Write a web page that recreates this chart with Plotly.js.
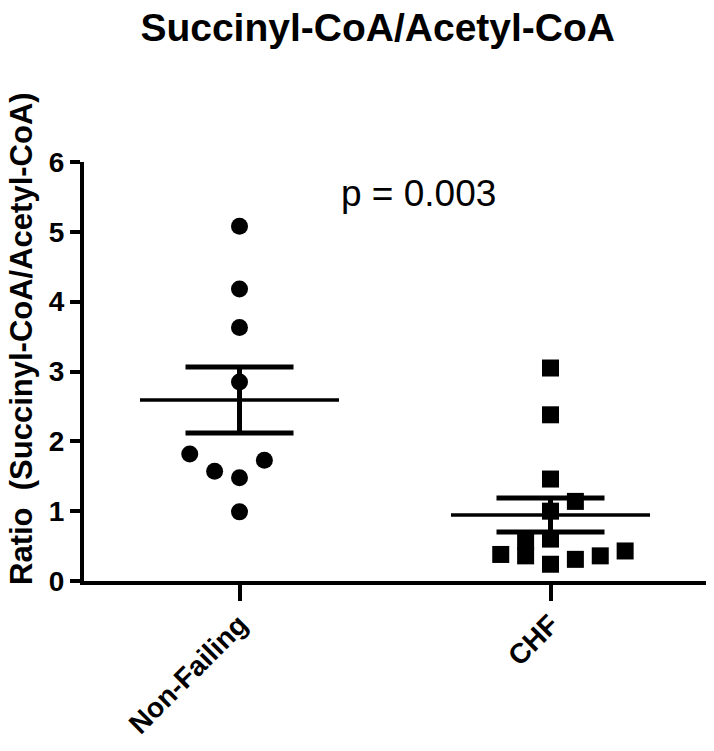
<!DOCTYPE html>
<html>
<head>
<meta charset="utf-8">
<script src="https://cdn.plot.ly/plotly-3.0.1.min.js"></script>
<style>html,body{margin:0;padding:0;background:#fff;}#chart{width:714px;height:751px;}</style>
</head>
<body>
<div id="chart"></div>
<script>
// ---- data ----
const categories = ["Non-Failing", "CHF"];
const nonFailingValues = [5.08, 4.18, 3.63, 2.85, 1.82, 1.57, 1.48, 1.73, 0.99];
const nonFailingJitter = [0, 0, 0, 0, -2, -1, 0, 1, 0];
const chfValues = [3.05, 2.38, 1.46, 1.14, 1.00, 0.57, 0.36, 0.60, 0.38, 0.24, 0.31, 0.36, 0.43];
const chfJitter = [0, 0, 0, 1, 0, -1, -1, 0, -2, 0, 1, 2, 3];
const yTickVals = [0, 1, 2, 3, 4, 5, 6];
const pValueText = "p = 0.003";
const chartTitle = "Succinyl-CoA/Acetyl-CoA";
const yTitle = "Ratio  (Succinyl-CoA/Acetyl-CoA)";

// ---- styling ----
const FONT = "Liberation Sans, Arial, sans-serif";
const JITTER_STEP = 0.08;
const MEAN_HALF = 0.32;

function mean(a){ return a.reduce((s,v)=>s+v,0)/a.length; }
function sem(a){ const m=mean(a); const v=a.reduce((s,x)=>s+(x-m)*(x-m),0)/(a.length-1); return Math.sqrt(v)/Math.sqrt(a.length); }

const groups = [
  {vals: nonFailingValues, jit: nonFailingJitter, symbol: "circle", pos: 0},
  {vals: chfValues, jit: chfJitter, symbol: "square", pos: 1}
];

const traces = [];
groups.forEach(g => {
  const m = mean(g.vals), s = sem(g.vals);
  traces.push({
    type: "scatter", mode: "markers",
    x: g.jit.map(j => g.pos + j*JITTER_STEP), y: g.vals,
    marker: {symbol: g.symbol, size: 17, color: "#000", line: {width: 0}},
    hoverinfo: "y", showlegend: false, cliponaxis: false
  });
  traces.push({
    type: "scatter", mode: "lines",
    x: [g.pos - MEAN_HALF, g.pos + MEAN_HALF], y: [m, m],
    line: {color: "#000", width: 3.5}, showlegend: false, hoverinfo: "skip"
  });
  traces.push({
    type: "scatter", mode: "markers",
    x: [g.pos], y: [m],
    marker: {size: 1, color: "rgba(0,0,0,0)"},
    error_y: {type: "data", array: [s], visible: true, color: "#000", thickness: 5, width: 54},
    showlegend: false, hoverinfo: "skip"
  });
});

const layout = {
  width: 714, height: 751,
  margin: {l: 84, r: 8, t: 162, b: 170},
  paper_bgcolor: "#fff", plot_bgcolor: "#fff",
  font: {family: FONT, color: "#000"},
  title: {
    text: "<b>" + chartTitle + "</b>",
    font: {family: FONT, size: 39, color: "#000"},
    x: 0.529, xref: "container", xanchor: "center",
    y: 1 - 27/751, yref: "container", yanchor: "middle"
  },
  xaxis: {
    range: [-0.5, 1.5], tickvals: [0, 1], ticktext: categories,
    tickangle: -45, showgrid: false, zeroline: false,
    showline: true, linewidth: 4, linecolor: "#000",
    ticks: "outside", ticklen: 16, tickwidth: 4, tickcolor: "#000",
    ticklabelstandoff: -4,
    tickfont: {family: FONT, size: 28, weight: "bold", color: "#000"},
    fixedrange: true
  },
  yaxis: {
    range: [0, 6], tickvals: yTickVals,
    showgrid: false, zeroline: false,
    showline: true, linewidth: 4, linecolor: "#000",
    ticks: "outside", ticklen: 10, tickwidth: 4, tickcolor: "#000",
    tickfont: {family: FONT, size: 28, weight: "bold", color: "#000"},
    fixedrange: true
  },
  annotations: [
    {text: pValueText, xref: "paper", yref: "paper", x: 0.537, y: 0.926,
     xanchor: "center", yanchor: "middle", showarrow: false,
     font: {family: FONT, size: 37, color: "#000"}},
    {text: "<b>" + yTitle + "</b>", xref: "paper", yref: "paper", x: -0.0997, y: 0.58,
     xanchor: "center", yanchor: "middle", textangle: -90, showarrow: false,
     font: {family: FONT, size: 31, color: "#000"}}
  ]
};

Plotly.newPlot("chart", traces, layout, {displayModeBar: false, staticPlot: true});
</script>
</body>
</html>
